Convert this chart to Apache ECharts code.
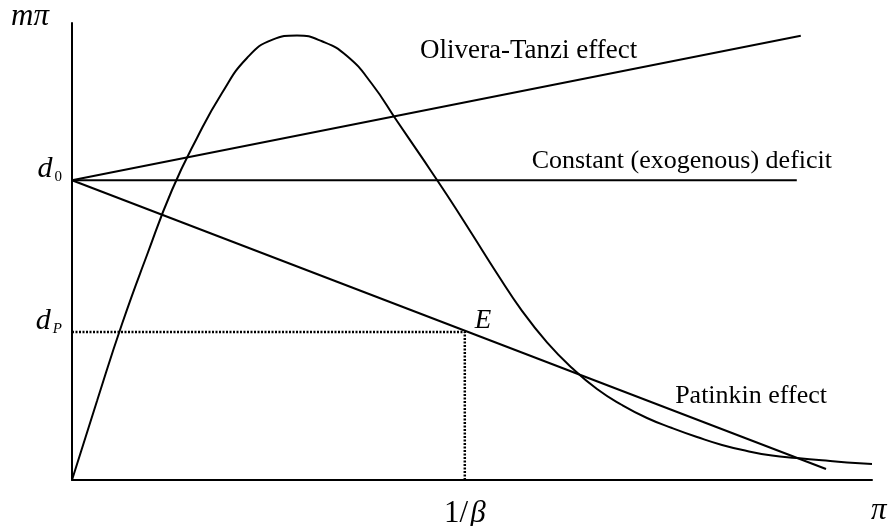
<!DOCTYPE html>
<html>
<head>
<meta charset="utf-8">
<script src="https://cdn.jsdelivr.net/npm/echarts@6/dist/echarts.min.js"></script>
<style>
html,body{margin:0;padding:0;background:#fff;}
#chart{width:890px;height:526px;}
</style>
</head>
<body>
<div id="chart"></div>
<script>
// Axis ranges (arbitrary units)
const xMax = 100;
const yMax = 100;

// Key levels
const d0 = 65.6;        // constant deficit level
const dP = 32.4;        // Patinkin equilibrium deficit
const invBeta = 49.1;   // 1/beta

// Seigniorage (Laffer) curve
const curveX = [0, 3.125, 6.25, 9.375, 12.5, 15.625, 18.75, 21.875, 25, 28.125, 31.25, 34.375, 37.5, 40.625, 43.75, 46.875, 50, 53.125, 56.25, 59.375, 62.5, 65.625, 68.75, 71.875, 75, 78.125, 81.25, 84.375, 87.5, 90.625, 93.75, 96.875, 100];
const curveY = [0, 17.29, 34.14, 49.23, 63.46, 74.84, 84.68, 92.34, 96.3, 97.26, 96.0, 92.78, 86.65, 78.56, 70.53, 62.36, 53.83, 45.19, 37.02, 30.11, 24.51, 19.91, 16.41, 13.57, 11.38, 9.41, 7.66, 6.35, 5.36, 4.81, 4.31, 3.85, 3.5];

// Straight lines: endpoints
const oliveraX = [0, 91.1];
const oliveraY = [d0, 97.2];
const constantX = [0, 90.6];
const constantY = [d0, d0];
const patinkinX = [0, 94.25];
const patinkinY = [d0, 2.4];

// Labels
const labelOlivera = 'Olivera-Tanzi effect';
const labelConstant = 'Constant (exogenous) deficit';
const labelPatinkin = 'Patinkin effect';
const labelE = 'E';

const zip = (xs, ys) => xs.map((x, i) => [x, ys[i]]);
const serif = 'Liberation Serif, Times New Roman, serif';
const black = '#000';

const chart = echarts.init(document.getElementById('chart'), null, {renderer: 'canvas'});

const option = {
  animation: false,
  backgroundColor: '#fff',
  grid: {left: 72, right: 18, top: 23, bottom: 46, containLabel: false, outerBoundsMode: 'none'},
  xAxis: {
    type: 'value', min: 0, max: xMax,
    axisLine: {show: true, onZero: false, lineStyle: {color: black, width: 2}},
    axisTick: {show: false},
    splitLine: {show: false},
    axisLabel: {
      customValues: [invBeta],
      margin: 18,
      formatter: () => '{a|1/}{b|β}',
      rich: {
        a: {fontFamily: serif, fontSize: 31, color: black},
        b: {fontFamily: serif, fontSize: 31, fontStyle: 'italic', color: black, padding: [0, 0, 0, 2]}
      }
    }
  },
  yAxis: {
    type: 'value', min: 0, max: yMax,
    axisLine: {show: true, onZero: false, lineStyle: {color: black, width: 2}},
    axisTick: {show: false},
    splitLine: {show: false},
    axisLabel: {
      customValues: [dP, d0],
      margin: 10,
      padding: [0, 0, 14, 0],
      formatter: v => (Math.abs(v - d0) < 0.01 ? '{d|d}{s|0}' : '{d|d}{p|P}'),
      rich: {
        d: {fontFamily: serif, fontSize: 30, fontStyle: 'italic', color: black, padding: [0, 2, 8, 0]},
        s: {fontFamily: serif, fontSize: 15, color: black, padding: [8, 0, 0, 0]},
        p: {fontFamily: serif, fontSize: 15, fontStyle: 'italic', color: black, padding: [8, 0, 0, 0]}
      }
    }
  },
  series: [
    {
      type: 'line', data: zip(curveX, curveY), smooth: 0.5, showSymbol: false,
      lineStyle: {color: black, width: 2}, silent: true
    },
    {
      type: 'line', data: zip(oliveraX, oliveraY), showSymbol: false,
      lineStyle: {color: black, width: 2}, silent: true
    },
    {
      type: 'line', data: zip(constantX, constantY), showSymbol: false,
      lineStyle: {color: black, width: 2}, silent: true
    },
    {
      type: 'line', data: zip(patinkinX, patinkinY), showSymbol: false,
      lineStyle: {color: black, width: 2}, silent: true
    },
    {
      type: 'line', data: [[0, dP], [invBeta, dP]], showSymbol: false,
      lineStyle: {color: black, width: 2.5, type: [2, 1.5]}, silent: true
    },
    {
      type: 'line', data: [[invBeta, 0], [invBeta, dP]], showSymbol: false,
      lineStyle: {color: black, width: 2.5, type: [2, 1.5]}, silent: true
    },
    {
      type: 'scatter', data: [[invBeta, dP]], symbolSize: 0, silent: true,
      itemStyle: {opacity: 1, color: black},
      label: {
        show: true, formatter: labelE, position: 'right', distance: 10, offset: [0, -11],
        fontFamily: serif, fontSize: 27, fontStyle: 'italic', color: black, opacity: 1
      }
    }
  ],
  graphic: [
    {type: 'text', left: 11, top: 1, style: {text: 'mπ', font: 'italic 31px ' + serif, fill: black}},
    {type: 'text', left: 871, top: 495, style: {text: 'π', font: 'italic 31px ' + serif, fill: black}},
    {type: 'text', left: 420, top: 37, style: {text: labelOlivera, font: '27px ' + serif, fill: black}},
    {type: 'text', right: 58, top: 148, style: {text: labelConstant, font: '26px ' + serif, fill: black}},
    {type: 'text', right: 63, top: 383, style: {text: labelPatinkin, font: '26px ' + serif, fill: black}}
  ]
};
chart.setOption(option);
</script>
</body>
</html>
